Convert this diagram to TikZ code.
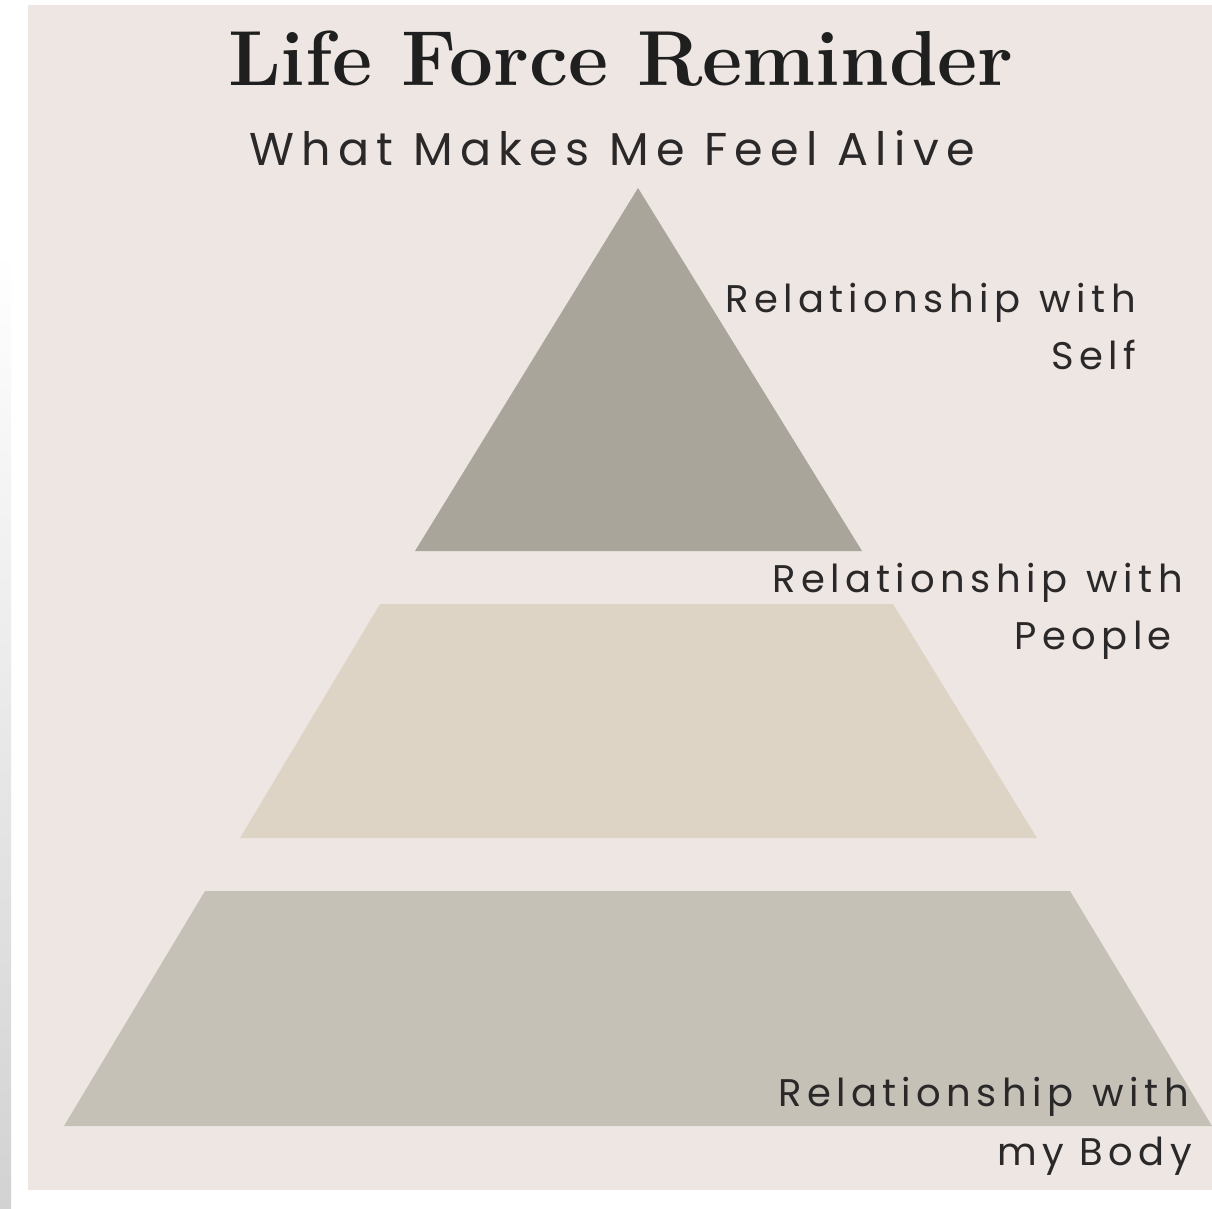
\documentclass[tikz,border=0pt]{standalone}
\usepackage{fontspec}
\newfontfamily\labfont[LetterSpace=14]{Poppins}
\newfontfamily\subfont[LetterSpace=16]{Poppins}
\definecolor{panel}{HTML}{EEE6E3}
\definecolor{topc}{HTML}{A9A59B}
\definecolor{midc}{HTML}{DED4C5}
\definecolor{botc}{HTML}{C5C1B7}
\definecolor{stripc}{HTML}{D2D2D2}
\definecolor{ink}{HTML}{2A2828}
\tikzset{
  lab/.style={font=\labfont\fontsize{38.5}{42}\selectfont, text=ink, inner sep=0pt, anchor=base east},
}
\begin{document}
\begin{tikzpicture}[x=1pt,y=-1pt]
\useasboundingbox (0,0) rectangle (1212,1208);
\fill[white] (0,0) rectangle (1212,1208);
\shade[top color=white, bottom color=stripc] (0,250) rectangle (11,1208);
\fill[panel] (28,5) rectangle (1212,1190);
% tiers
\fill[topc] (638,188) -- (862,551) -- (415,551) -- cycle;
\fill[midc] (380,604) -- (893,604) -- (1037,838) -- (240,838) -- cycle;
\fill[botc] (205,891) -- (1070,891) -- (1212,1126) -- (64,1126) -- cycle;
% titles
\node[font=\bfseries\fontsize{78}{88}\selectfont, text=black!88, inner sep=0pt, anchor=base] (title) at (621,85) {Life Force Reminder};
\node[font=\subfont\fontsize{46}{52}\selectfont, text=ink, inner sep=0pt, anchor=base] (sub) at (612,165) {What Makes Me Feel Alive};
% labels
\node[lab] (l1a) at (1136,312) {Relationship\hspace{4pt} with};
\node[lab] (l1b) at (1136,369) {Self};
\node[lab] (l2a) at (1183,592) {Relationship\hspace{4pt} with};
\node[lab] (l2b) at (1172,649) {People};
\node[lab] (l3a) at (1189,1106) {Relationship\hspace{4pt} with};
\node[lab] (l3b) at (1192,1165) {my Body};
\end{tikzpicture}
\end{document}
